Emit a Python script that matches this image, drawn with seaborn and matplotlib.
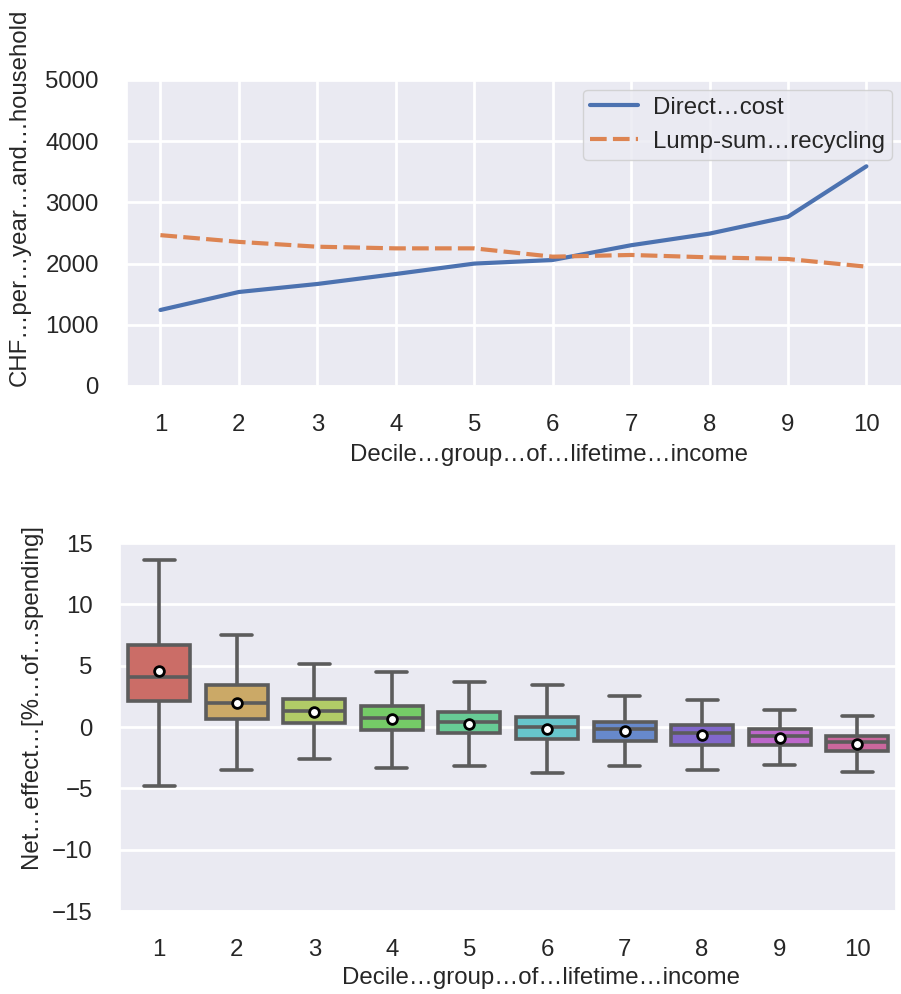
import numpy as np
import pandas as pd
import matplotlib
matplotlib.use("Agg")
import matplotlib.pyplot as plt
import seaborn as sns

# Decile groups of lifetime income
deciles = list(range(1, 11))

# Average annual cost per household (CHF)
direct_cost = [1242, 1536, 1667, 1830, 2000, 2059, 2300, 2490, 2765, 3590]
lump_sum_recycling = [2465, 2355, 2276, 2249, 2249, 2113, 2141, 2102, 2075, 1950]

# Net effect in % of spending, per decile: box statistics
whisker_low = [-4.77, -3.52, -2.63, -3.31, -3.14, -3.74, -3.17, -3.50, -3.09, -3.68]
quartile_1 = [2.14, 0.63, 0.30, -0.27, -0.51, -1.00, -1.14, -1.44, -1.46, -1.93]
median = [4.07, 1.93, 1.33, 0.70, 0.38, 0.00, -0.19, -0.51, -0.71, -1.20]
quartile_3 = [6.72, 3.44, 2.30, 1.73, 1.22, 0.84, 0.41, 0.14, -0.19, -0.73]
whisker_high = [13.63, 7.48, 5.12, 4.50, 3.69, 3.39, 2.52, 2.20, 1.38, 0.92]
mean = [4.58, 1.98, 1.19, 0.62, 0.27, -0.14, -0.35, -0.67, -0.89, -1.38]

top_label_x = "Decile…group…of…lifetime…income"
top_label_y = "CHF…per…year…and…household"
bottom_label_y = "Net…effect…[%…of…spending]"
legend_labels = ["Direct…cost", "Lump-sum…recycling"]


def five_number_sample(lo, q1, med, q3, hi, mu):
    """Nine values whose min, quartiles, max and mean equal the given statistics."""
    lower = [lo, q1, med, q3]
    upper = [q1, med, q3, hi]
    need = 9 * mu - (lo + q1 + med + q3 + hi)
    t = (need - sum(lower)) / (sum(upper) - sum(lower))
    t = min(max(t, 0.0), 1.0)
    mids = [l + t * (u - l) for l, u in zip(lower, upper)]
    return [lo, mids[0], q1, mids[1], med, mids[2], q3, mids[3], hi]


sns.set_theme(style="darkgrid")
plt.rcParams["font.family"] = ["Liberation Sans", "DejaVu Sans"]
plt.rcParams["axes.unicode_minus"] = True

FS = 17.3
W, H = 901, 994
fig = plt.figure(figsize=(W / 100, H / 100), dpi=100)

# ---------- top panel: cost and recycling lines ----------
ax1 = fig.add_axes([126.7 / W, (H - 386) / H, 775 / W, 306 / H])
lines_df = pd.DataFrame({
    "decile": deciles * 2,
    "chf": direct_cost + lump_sum_recycling,
    "series": [legend_labels[0]] * 10 + [legend_labels[1]] * 10,
})
sns.lineplot(data=lines_df, x="decile", y="chf", hue="series", style="series",
             palette=sns.color_palette("deep")[:2], linewidth=3, ax=ax1)
ax1.set_xlim(0.57, 10.45)
ax1.set_ylim(0, 5000)
ax1.set_xticks(deciles)
ax1.set_yticks(range(0, 5001, 1000))
ax1.set_xlabel(top_label_x, fontsize=FS)
ax1.set_ylabel(top_label_y, fontsize=FS)
handles, labels = ax1.get_legend_handles_labels()
ax1.legend(handles=handles, labels=labels, loc="upper right", fontsize=FS,
           borderaxespad=0.4, handlelength=2.0, handletextpad=0.6,
           borderpad=0.3)
ax1.grid(True, color="white", linewidth=2)

# ---------- bottom panel: distribution of net effect ----------
ax2 = fig.add_axes([120.5 / W, (H - 911) / H, 775.5 / W, 368 / H])
rows = []
for d, lo, a, m, b, hi, mu in zip(deciles, whisker_low, quartile_1, median,
                                   quartile_3, whisker_high, mean):
    for v in five_number_sample(lo, a, m, b, hi, mu):
        rows.append({"decile": str(d), "effect": v})
box_df = pd.DataFrame(rows)
order = [str(d) for d in deciles]
sns.boxplot(data=box_df, x="decile", y="effect", hue="decile", order=order,
            hue_order=order, palette="hls", legend=False, whis=(0, 100),
            showfliers=False, showmeans=True, linewidth=2.6, width=0.8,
            meanprops={"marker": "o", "markerfacecolor": "white",
                       "markeredgecolor": "black", "markersize": 7,
                       "markeredgewidth": 2},
            ax=ax2)
ax2.set_ylim(-15, 15)
ax2.set_yticks(range(-15, 16, 5))
ax2.set_xlabel(top_label_x, fontsize=FS)
ax2.set_ylabel(bottom_label_y, fontsize=FS)
ax2.yaxis.grid(True, color="white", linewidth=2)
ax2.xaxis.grid(False)

for ax in (ax1, ax2):
    ax.tick_params(axis="both", labelsize=FS, length=0, pad=20)
    ax.xaxis.label.set_va("center")
    ax.yaxis.label.set_va("center")

ax1.xaxis.set_label_coords((548.5 - 126.7) / 775, (386 - 455) / 306)
ax1.yaxis.set_label_coords((20 - 126.7) / 775, (386 - 197.5) / 306)
ax2.xaxis.set_label_coords((541.5 - 120.5) / 775.5, (911 - 978) / 368)
ax2.yaxis.set_label_coords((31 - 120.5) / 775.5, (911 - 695.5) / 368)

fig.savefig("out.png", dpi=100)
